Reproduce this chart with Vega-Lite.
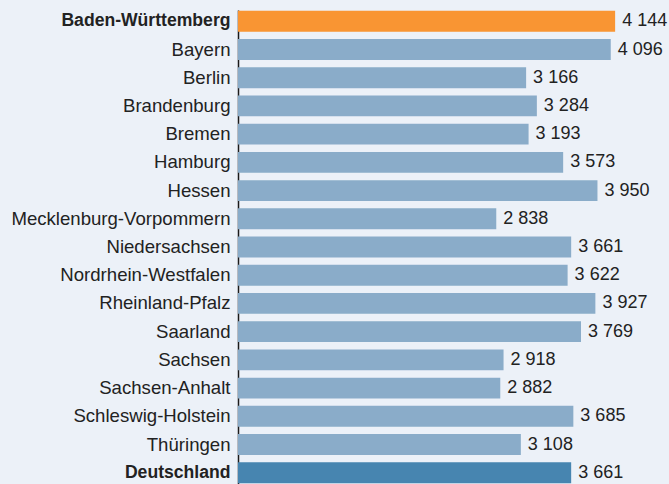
{
  "$schema": "https://vega.github.io/schema/vega-lite/v6.json",
  "autosize": {"type": "none"},
  "width": 431,
  "height": 474,
  "padding": {"left": 238, "top": 10, "right": 0, "bottom": 0},
  "background": "#ECF1F8",
  "config": {
    "view": {"stroke": null},
    "locale": {"number": {"decimal": ",", "thousands": " ", "grouping": [3], "currency": ["", " €"]}}
  },
  "data": {
    "values": [
      {"land": "Baden-Württemberg", "wert": 4144},
      {"land": "Bayern", "wert": 4096},
      {"land": "Berlin", "wert": 3166},
      {"land": "Brandenburg", "wert": 3284},
      {"land": "Bremen", "wert": 3193},
      {"land": "Hamburg", "wert": 3573},
      {"land": "Hessen", "wert": 3950},
      {"land": "Mecklenburg-Vorpommern", "wert": 2838},
      {"land": "Niedersachsen", "wert": 3661},
      {"land": "Nordrhein-Westfalen", "wert": 3622},
      {"land": "Rheinland-Pfalz", "wert": 3927},
      {"land": "Saarland", "wert": 3769},
      {"land": "Sachsen", "wert": 2918},
      {"land": "Sachsen-Anhalt", "wert": 2882},
      {"land": "Schleswig-Holstein", "wert": 3685},
      {"land": "Thüringen", "wert": 3108},
      {"land": "Deutschland", "wert": 3661}
    ]
  },
  "encoding": {
    "y": {
      "field": "land",
      "type": "nominal",
      "sort": null,
      "scale": {"paddingInner": 0.26, "paddingOuter": 0.03},
      "axis": {
        "title": null,
        "ticks": false,
        "labelPadding": 8,
        "labelFont": "Liberation Sans",
        "labelColor": "#222222",
        "labelLimit": 300,
        "domainColor": "#1a1a1a",
        "domainWidth": 1.5,
        "labelFontSize": {
          "condition": {"test": "datum.value === 'Baden-Württemberg' || datum.value === 'Deutschland'", "value": 17.6},
          "value": 18.6
        },
        "labelFontWeight": {
          "condition": {"test": "datum.value === 'Baden-Württemberg' || datum.value === 'Deutschland'", "value": "bold"},
          "value": "normal"
        }
      }
    },
    "x": {"field": "wert", "type": "quantitative", "scale": {"domain": [0, 4736]}, "axis": null}
  },
  "layer": [
    {
      "mark": {"type": "bar"},
      "encoding": {
        "color": {
          "condition": [
            {"test": "datum.land === 'Baden-Württemberg'", "value": "#F99533"},
            {"test": "datum.land === 'Deutschland'", "value": "#4785B0"}
          ],
          "value": "#8AACC9"
        }
      }
    },
    {
      "mark": {"type": "text", "align": "left", "baseline": "middle", "dx": 7, "fontSize": 18, "font": "Liberation Sans", "color": "#222222"},
      "encoding": {
        "text": {"field": "wert", "type": "quantitative", "format": ",d"}
      }
    }
  ]
}
